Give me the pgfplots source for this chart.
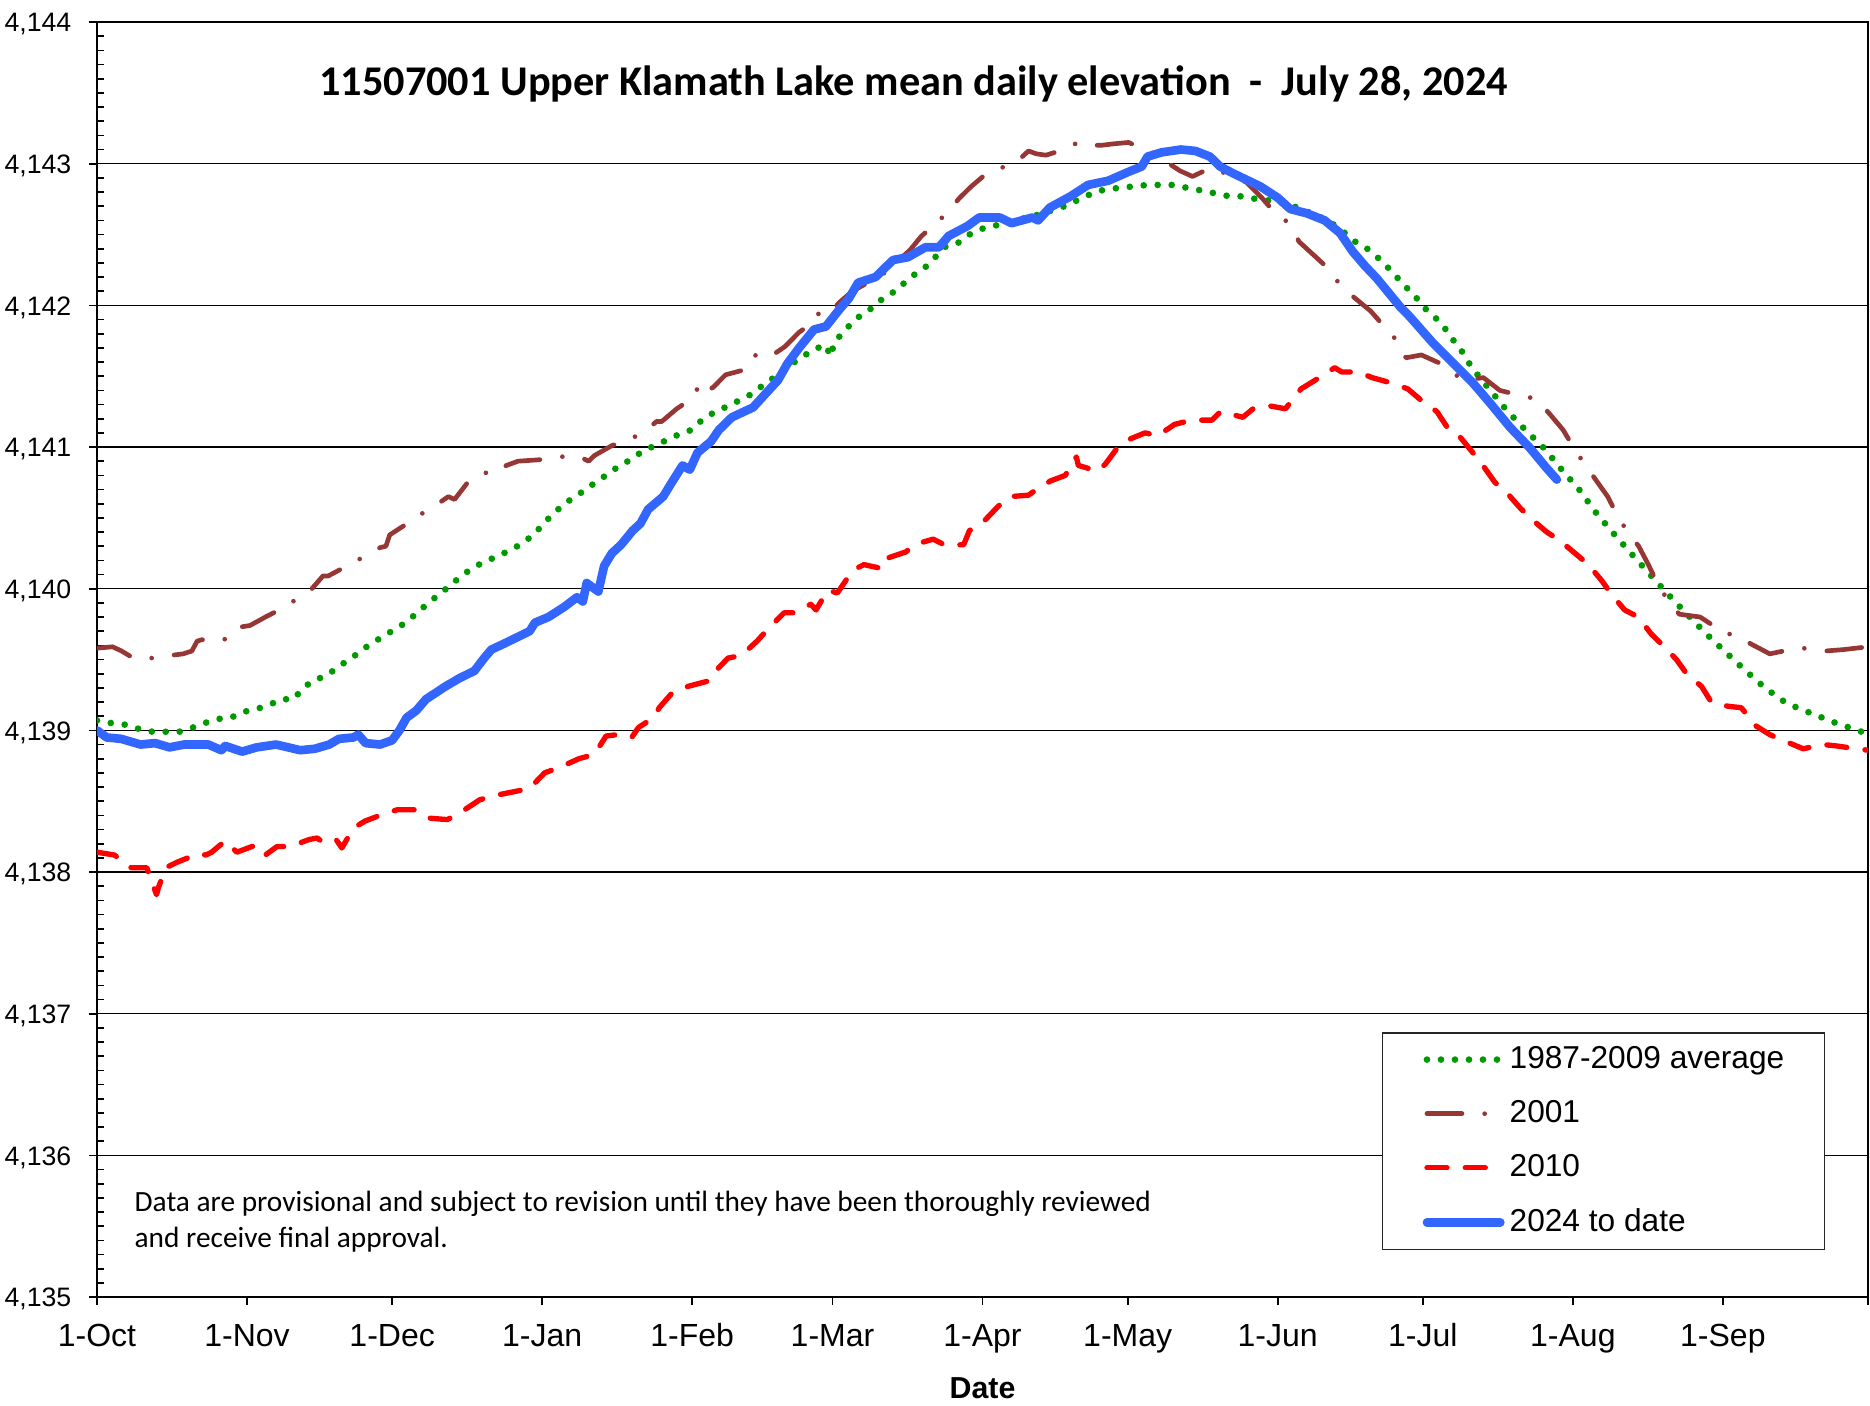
\documentclass[border=0pt]{standalone}
\usepackage{fontspec}
\setmainfont{Liberation Sans}
\newfontfamily\calibri{Carlito}
\usepackage{pgfplots}
\pgfplotsset{compat=1.18}
\definecolor{avggreen}{RGB}{0,153,0}
\definecolor{brownA}{RGB}{150,55,53}
\definecolor{blueB}{RGB}{51,102,255}
\pgfplotsset{legend image code/.code={\draw[#1] (0pt,0pt) -- (22pt,0pt);}}
\begin{document}
\begin{tikzpicture}
\path[use as bounding box] (-29.1pt,-32.4pt) rectangle (531.9pt,389.1pt);
\begin{axis}[
  at={(0pt,0pt)}, anchor=south west,
  scale only axis, width=531.3pt, height=382.5pt,
  xmin=0, xmax=366, ymin=4135, ymax=4144,
  xtick={0,31,61,92,123,152,183,213,244,274,305,336,366},
  xticklabels={1-Oct,1-Nov,1-Dec,1-Jan,1-Feb,1-Mar,1-Apr,1-May,1-Jun,1-Jul,1-Aug,1-Sep,{}},
  ytick={4135,4136,4137,4138,4139,4140,4141,4142,4143,4144},
  yticklabels={{4,135},{4,136},{4,137},{4,138},{4,139},{4,140},{4,141},{4,142},{4,143},{4,144}},
  minor y tick num=9,
  xtick pos=bottom, ytick pos=left,
  tick align=inside,
  major tick length=-2.5pt,
  minor tick length=2pt,
  major tick style={line width=0.5pt, black},
  minor tick style={line width=0.5pt, black},
  axis line style={line width=0.75pt, black},
  ymajorgrids, grid style={line width=0.4pt, black},
  yticklabel style={anchor=base east, inner sep=0pt, xshift=-7.5pt, yshift=-2.9pt, font=\fontsize{8}{9}\selectfont},
  xticklabel style={anchor=base, inner sep=0pt, yshift=-14.8pt, font=\fontsize{9.6}{11}\selectfont},
  xlabel={Date},
  xlabel style={at={(axis description cs:0.5,0)}, anchor=base, inner sep=0pt, yshift=-30.5pt, font=\bfseries\fontsize{9.1}{11}\selectfont},
  legend style={at={(0.9757,0.0369)}, anchor=south east, draw=black!85, line width=0.4pt, fill=white,
    font=\fontsize{9.5}{11}\selectfont, inner xsep=12pt, inner ysep=3.9pt, row sep=8.1pt, column sep=1.5pt,
    nodes={inner sep=0pt}},
  legend cell align=left,
]
\addplot[avggreen, line width=2pt, line cap=round, dash pattern=on 0pt off 4.2pt] coordinates {
(0,4139.07) (3.2,4139.05) (5.9,4139.04) (8.7,4139.01) (11.5,4138.99) (14.2,4138.99) (17,4138.99) (19.8,4139.02)
(22.1,4139.05) (24.9,4139.08) (27.7,4139.09) (30.2,4139.13) (32.9,4139.15) (35.6,4139.18) (38.1,4139.22) (40.6,4139.22)
(42.4,4139.29) (44.5,4139.35) (47,4139.38) (49.2,4139.43) (51.6,4139.49) (53.8,4139.54) (56.1,4139.60) (58.5,4139.65)
(60.9,4139.70) (63.3,4139.75) (65.5,4139.81) (67.5,4139.87) (69.6,4139.93) (71.8,4139.99) (73.9,4140.05) (76.1,4140.11)
(78.3,4140.16) (80.8,4140.20) (83.4,4140.24) (85.9,4140.28) (88.3,4140.33) (90.5,4140.39) (92.3,4140.46) (94.3,4140.53)
(96.3,4140.59) (98.7,4140.65) (101.1,4140.70) (103.3,4140.76) (105.7,4140.81) (108,4140.87) (110.3,4140.91) (112.7,4140.97)
(115.3,4141.01) (117.8,4141.05) (120.3,4141.09) (122.8,4141.12) (125,4141.19) (127.3,4141.24) (129.8,4141.28) (132.2,4141.32)
(134.6,4141.36) (137,4141.42) (139.1,4141.47) (141.3,4141.53) (143.7,4141.59) (145.9,4141.64) (148.2,4141.69) (150.6,4141.72)
(151.6,4141.64) (152.4,4141.74) (154.2,4141.81) (156.1,4141.88) (158.2,4141.94) (160.6,4141.99) (162.7,4142.06) (165,4142.10)
(167.2,4142.17) (169.4,4142.23) (171.6,4142.28) (173.5,4142.35) (175.5,4142.42) (177.9,4142.44) (180.3,4142.50) (182.8,4142.54)
(185.4,4142.56) (188.2,4142.59) (191,4142.61) (193.6,4142.63) (196.1,4142.66) (198.6,4142.68) (201.2,4142.72) (203.8,4142.76)
(206.2,4142.80) (208.7,4142.82) (211.5,4142.83) (214.3,4142.84) (217.1,4142.85) (219.8,4142.85) (222.6,4142.85) (225.2,4142.83)
(228.4,4142.81) (231.2,4142.79) (234,4142.77) (236.8,4142.77) (239.6,4142.75) (242.4,4142.74) (245.2,4142.72) (248.1,4142.69)
(250.9,4142.65) (253.7,4142.61) (256.5,4142.55) (260,4142.45) (262.5,4142.40) (264.6,4142.34) (266.7,4142.27) (268.6,4142.20)
(270.5,4142.13) (272.5,4142.06) (274.4,4141.98) (276.4,4141.92) (278.3,4141.85) (280.6,4141.74) (282.4,4141.66) (284.1,4141.56)
(287.7,4141.41) (291.3,4141.26) (295.2,4141.12) (299.1,4140.99) (302.7,4140.84) (306.3,4140.70) (309.7,4140.54) (313.4,4140.39)
(317,4140.25) (320.7,4140.11) (324.4,4139.97) (328.3,4139.83) (332.3,4139.69) (336.3,4139.56) (340.4,4139.43) (344.7,4139.30)
(349.2,4139.19) (354.3,4139.12) (359.5,4139.05) (364.7,4138.99) (366,4138.98)
};
\addlegendentry{1987-2009 average}
\addplot[brownA, line width=1.4pt, line cap=round, line join=round, dash pattern=on 10.5pt off 6.8pt on 0pt off 6.8pt] coordinates {
(0,4139.58) (3.2,4139.59) (5.1,4139.56) (7.5,4139.51) (11.2,4139.51) (15.4,4139.53) (17.8,4139.54) (19.6,4139.56)
(20.7,4139.63) (21.7,4139.64) (25.3,4139.63) (28.5,4139.67) (29.7,4139.73) (31.6,4139.74) (34.8,4139.80) (38.2,4139.86)
(41.9,4139.94) (43.9,4139.98) (46.7,4140.09) (47.8,4140.09) (51.6,4140.16) (55.4,4140.23) (58.5,4140.29) (59.7,4140.30)
(60.5,4140.38) (64.1,4140.46) (67.6,4140.54) (69.6,4140.58) (72.6,4140.65) (73.9,4140.63) (76.6,4140.75) (79.9,4140.82)
(82.2,4140.81) (84.6,4140.87) (87,4140.90) (91.3,4140.91) (95.7,4140.93) (98.1,4140.94) (100.4,4140.92) (101.6,4140.90)
(102.8,4140.94) (106.4,4141.01) (110.5,4141.06) (113.6,4141.12) (115.6,4141.18) (116.7,4141.18) (119.8,4141.27) (123.3,4141.35)
(124.4,4141.44) (125.3,4141.39) (127.3,4141.42) (129.9,4141.51) (133.2,4141.54) (135.6,4141.65) (138.8,4141.63) (142.2,4141.71)
(145.1,4141.81) (147.1,4141.86) (149,4141.94) (151,4141.93) (153.4,4142.02) (156.1,4142.10) (159.3,4142.16) (161.7,4142.20)
(164.1,4142.27) (168,4142.39) (170.4,4142.49) (173.5,4142.58) (175.8,4142.66) (178.3,4142.76) (180.7,4142.84) (183.8,4142.93)
(187.6,4142.98) (190.6,4143.03) (192.5,4143.09) (194.1,4143.07) (196.1,4143.06) (198.9,4143.09) (202.8,4143.15) (205.2,4143.13)
(207.6,4143.13) (210,4143.14) (213.2,4143.15) (217.1,4143.09) (219.9,4143.05) (222,4142.99) (223.8,4142.95) (226.4,4142.91)
(230.1,4142.97) (232.6,4142.94) (235.4,4142.90) (237.5,4142.87) (240.7,4142.76) (243.5,4142.65) (245.6,4142.60) (247.4,4142.52)
(248.4,4142.45) (251.6,4142.35) (255.1,4142.24) (256.1,4142.18) (257.9,4142.11) (260,4142.05) (263.2,4141.96) (266.3,4141.84)
(268.4,4141.76) (269.5,4141.69) (270.5,4141.63) (273.7,4141.65) (277.6,4141.59) (280,4141.53) (282.4,4141.47) (286.5,4141.49)
(289.9,4141.40) (293.4,4141.37) (297.4,4141.34) (300.3,4141.23) (303,4141.12) (305.1,4141.00) (307.2,4140.89) (309.7,4140.77)
(312.2,4140.65) (314,4140.53) (316.1,4140.41) (318.6,4140.30) (320.6,4140.17) (322.3,4140.05) (324.4,4139.93) (327,4139.82)
(331.3,4139.80) (334,4139.74) (336.5,4139.68) (338.2,4139.68) (341.8,4139.61) (345.7,4139.54) (348.5,4139.56) (352.6,4139.58)
(357.1,4139.56) (360.9,4139.57) (366,4139.59)
};
\addlegendentry{2001}
\addplot[red, line width=1.6pt, line cap=round, line join=round, dash pattern=on 6pt off 5.5pt] coordinates {
(0,4138.14) (3.6,4138.12) (7.1,4138.03) (10.3,4138.03) (12.3,4137.84) (12.7,4137.89) (14.2,4138.03) (16.6,4138.07)
(21,4138.13) (22.5,4138.12) (23.7,4138.14) (26.5,4138.22) (28.9,4138.14) (32.8,4138.19) (34.8,4138.12) (37.2,4138.18)
(39.9,4138.18) (43.9,4138.23) (45.5,4138.24) (46.7,4138.21) (49.4,4138.23) (50.6,4138.17) (53,4138.31) (55.4,4138.36)
(59.3,4138.41) (62.1,4138.44) (65.6,4138.44) (68.8,4138.38) (72.4,4138.37) (75.1,4138.42) (79.1,4138.51) (82.2,4138.54)
(86.6,4138.57) (89.4,4138.59) (92.5,4138.70) (95.7,4138.74) (99.6,4138.80) (102.8,4138.83) (105.2,4138.96) (107.6,4138.97)
(110.5,4138.95) (111.9,4139.02) (115,4139.09) (116.2,4139.16) (119,4139.27) (122.1,4139.31) (126.5,4139.35) (127.3,4139.40)
(130.4,4139.51) (133.2,4139.53) (136.4,4139.63) (138.8,4139.72) (142,4139.83) (144.3,4139.83) (147.5,4139.89) (148.6,4139.85)
(151,4139.99) (153,4139.97) (156.2,4140.13) (158.5,4140.17) (162.5,4140.14) (163.7,4140.22) (167.2,4140.26) (168.8,4140.31)
(172.8,4140.35) (175.1,4140.31) (179.1,4140.31) (180.3,4140.41) (183.4,4140.48) (186.2,4140.58) (188.6,4140.65) (192.5,4140.66)
(193.3,4140.68) (197,4140.76) (200.1,4140.80) (202.4,4140.93) (202.8,4140.87) (206.8,4140.83) (208.4,4140.88) (211.2,4141.01)
(213,4141.05) (216.6,4141.10) (219.2,4141.08) (222.7,4141.16) (226.2,4141.19) (230.4,4141.19) (232.2,4141.25) (236.8,4141.21)
(238.9,4141.27) (242.4,4141.29) (245.6,4141.27) (248.8,4141.41) (251.2,4141.46) (254.4,4141.53) (255.8,4141.56) (257.2,4141.53)
(260.7,4141.53) (263.5,4141.49) (267.7,4141.45) (270.9,4141.41) (274,4141.32) (276.9,4141.25) (279.6,4141.11) (281.7,4141.07)
(284.1,4140.97) (286.2,4140.88) (288.9,4140.75) (291.3,4140.68) (294.1,4140.57) (296.5,4140.49) (299.6,4140.40) (302.3,4140.34)
(305.8,4140.24) (308.2,4140.17) (310.9,4140.06) (313,4139.96) (315.7,4139.85) (318.5,4139.80) (321.2,4139.68) (323.6,4139.60)
(326.4,4139.50) (328.5,4139.40) (331.6,4139.31) (333.6,4139.20) (337.1,4139.17) (339.8,4139.16) (342.9,4139.03) (345.7,4138.97)
(349.8,4138.91) (352.6,4138.87) (356.7,4138.90) (359.5,4138.89) (363.6,4138.87) (366,4138.86)
};
\addlegendentry{2010}
\addplot[blueB, line width=2.6pt, line cap=round, line join=round] coordinates {
(0,4139.00) (2,4138.95) (5,4138.94) (9,4138.90) (12,4138.91) (15,4138.88) (18,4138.90) (23,4138.90)
(25.7,4138.86) (26.5,4138.89) (30,4138.85) (33,4138.88) (37,4138.90) (42,4138.86) (45,4138.87) (48,4138.90)
(50,4138.94) (53,4138.95) (54,4138.97) (55.5,4138.91) (58.5,4138.90) (61,4138.93) (62.5,4139.00) (64,4139.09)
(66,4139.14) (68,4139.22) (72,4139.31) (75,4139.37) (78,4139.42) (80,4139.51) (81.5,4139.57) (84,4139.61)
(87,4139.66) (89.4,4139.70) (90.5,4139.76) (93.3,4139.80) (96.5,4139.87) (99.2,4139.94) (100.4,4139.91) (101.2,4140.04)
(102.8,4140.00) (103.6,4139.98) (104.8,4140.16) (106.4,4140.25) (108.3,4140.31) (110.7,4140.41) (112.3,4140.46) (113.9,4140.56)
(117,4140.65) (118.6,4140.74) (121,4140.87) (122.5,4140.84) (124.1,4140.96) (126.9,4141.04) (128.5,4141.12) (131.2,4141.21)
(135.6,4141.28) (138.8,4141.40) (140.7,4141.47) (142.7,4141.59) (145.1,4141.70) (148.2,4141.83) (150.6,4141.85) (153.4,4141.97)
(155.4,4142.05) (157.3,4142.16) (160.9,4142.20) (164.5,4142.32) (167.6,4142.34) (171.2,4142.41) (174,4142.41) (176,4142.49)
(179.9,4142.56) (182.3,4142.62) (186.6,4142.62) (189,4142.58) (193.3,4142.62) (194.5,4142.60) (196.9,4142.69) (201.2,4142.77)
(204.8,4142.85) (209,4142.88) (213,4142.94) (215.9,4142.98) (217.1,4143.05) (220,4143.08) (224,4143.10) (227,4143.09)
(230,4143.05) (232.1,4142.98) (234.9,4142.93) (240.4,4142.84) (244,4142.76) (246.6,4142.68) (250,4142.65) (253.7,4142.60)
(256.9,4142.51) (259.5,4142.38) (262,4142.28) (264.5,4142.19) (269.3,4141.99) (271.3,4141.92) (276.2,4141.73) (280.3,4141.59) (284.4,4141.45)
(287.9,4141.31) (292,4141.14) (296.2,4140.99) (299.6,4140.85) (301.7,4140.77)
};
\addlegendentry{2024 to date}
\node[font=\calibri\bfseries\fontsize{12.7}{15}\selectfont, anchor=base, inner sep=0pt] at (rel axis cs:0.461,0.9427)
  {11507001 Upper Klamath Lake mean daily elevation\ \ -\ \ July 28, 2024};
\node[font=\calibri\fontsize{8.8}{10}\selectfont, anchor=base west, inner sep=0pt] at (rel axis cs:0.0209,0.0670)
  {Data are provisional and subject to revision until they have been thoroughly reviewed};
\node[font=\calibri\fontsize{8.8}{10}\selectfont, anchor=base west, inner sep=0pt] at (rel axis cs:0.0209,0.0389)
  {and receive final approval.};
\end{axis}
\end{tikzpicture}
\end{document}
